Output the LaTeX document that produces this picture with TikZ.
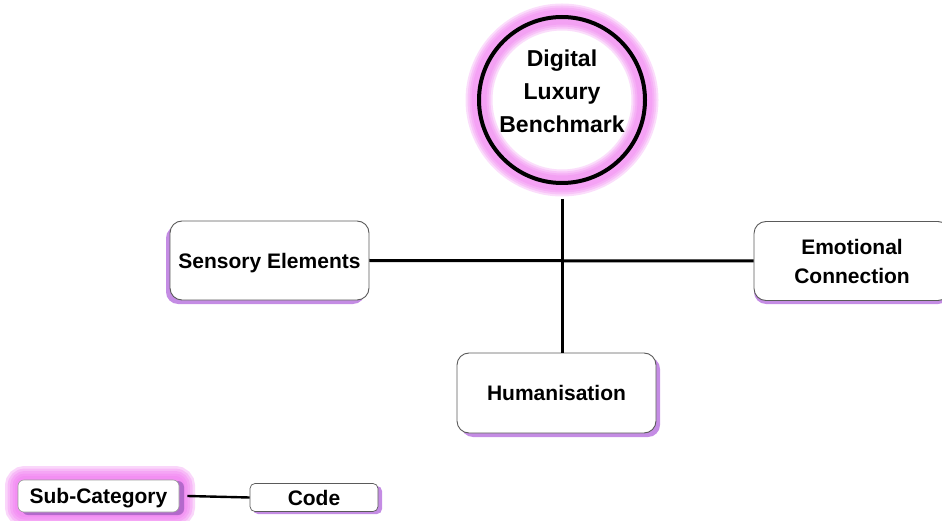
\documentclass[tikz,border=0pt]{standalone}
\usepackage{fontspec}
\setmainfont{Liberation Sans}
\definecolor{glowpink}{RGB}{240,120,240}
\definecolor{shadowlilac}{RGB}{196,140,228}
\definecolor{edgegray}{RGB}{90,90,90}
\tikzset{
  labelfont/.style={font=\bfseries\fontsize{21}{29}\selectfont, align=center, text depth=0pt},
  topicbox/.style={rectangle, rounded corners=12pt, draw=edgegray, line width=0.9pt,
    fill=white, inner sep=0pt, labelfont},
  link/.style={line width=3pt, black},
}
\begin{document}
\begin{tikzpicture}[x=1pt, y=-1pt]
\useasboundingbox (0,0) rectangle (942,521);
\clip (0,0) rectangle (942,521);

% central hub: white disc with a soft pink halo and a black ring
\fill[white] (562,100) circle (83pt);
\foreach \w in {27,23,19,15}
  \draw[glowpink, opacity=0.25, line width=\w pt] (562,100) circle (83pt);
\node[circle, draw=black, line width=4pt, minimum size=166pt, inner sep=0pt]
      (dlb) at (562,100) {};
\node[font=\bfseries\fontsize{23}{33}\selectfont, align=center, inner sep=0pt]
      (dlbtext) at (562,91) {Digital\\Luxury\\Benchmark};

% drop shadows of the topic boxes
\fill[shadowlilac, rounded corners=12pt] (166,226) rectangle (365,304);
\fill[shadowlilac, rounded corners=12pt] (754,226) rectangle (950,304);
\fill[shadowlilac, rounded corners=12pt] (461,357) rectangle (660,437);

% topic boxes
\node[topicbox, minimum width=199pt, minimum height=79pt] (sens) at (269.5,260.5) {Sensory Elements};
\node[topicbox, minimum width=196pt, minimum height=79pt] (emo) at (852,261) {Emotional\\Connection};
\node[topicbox, minimum width=199pt, minimum height=80pt] (hum) at (556.5,393) {Humanisation};

% connectors
\draw[link] (sens.east) -- (emo.west);
\draw[link] ([yshift=-14pt]dlb.south) -- (dlb.south |- hum.north);

% legend: glowing sub-category box linked to a code box
\foreach \w in {26,21,16,11,6}
  \draw[glowpink, opacity=0.3, line width=\w pt, rounded corners=7pt] (18,479) rectangle (182,514);
\fill[shadowlilac!75!violet, rounded corners=6pt] (22,481) rectangle (184,515);
\node[rectangle, rounded corners=6pt, fill=white, draw=edgegray!60, line width=0.6pt,
      inner sep=0pt, minimum width=161pt, minimum height=32pt, labelfont]
      (sub) at (98.5,496) {Sub-Category};
\fill[shadowlilac, rounded corners=5pt] (253,486) rectangle (382,514);
\node[rectangle, rounded corners=5pt, fill=white, draw=edgegray, line width=0.7pt,
      inner sep=0pt, minimum width=128pt, minimum height=28pt, labelfont]
      (code) at (314,497.5) {Code};
\draw[link, line width=2.4pt] ([xshift=8pt]sub.east) -- (code.west);
\end{tikzpicture}
\end{document}
